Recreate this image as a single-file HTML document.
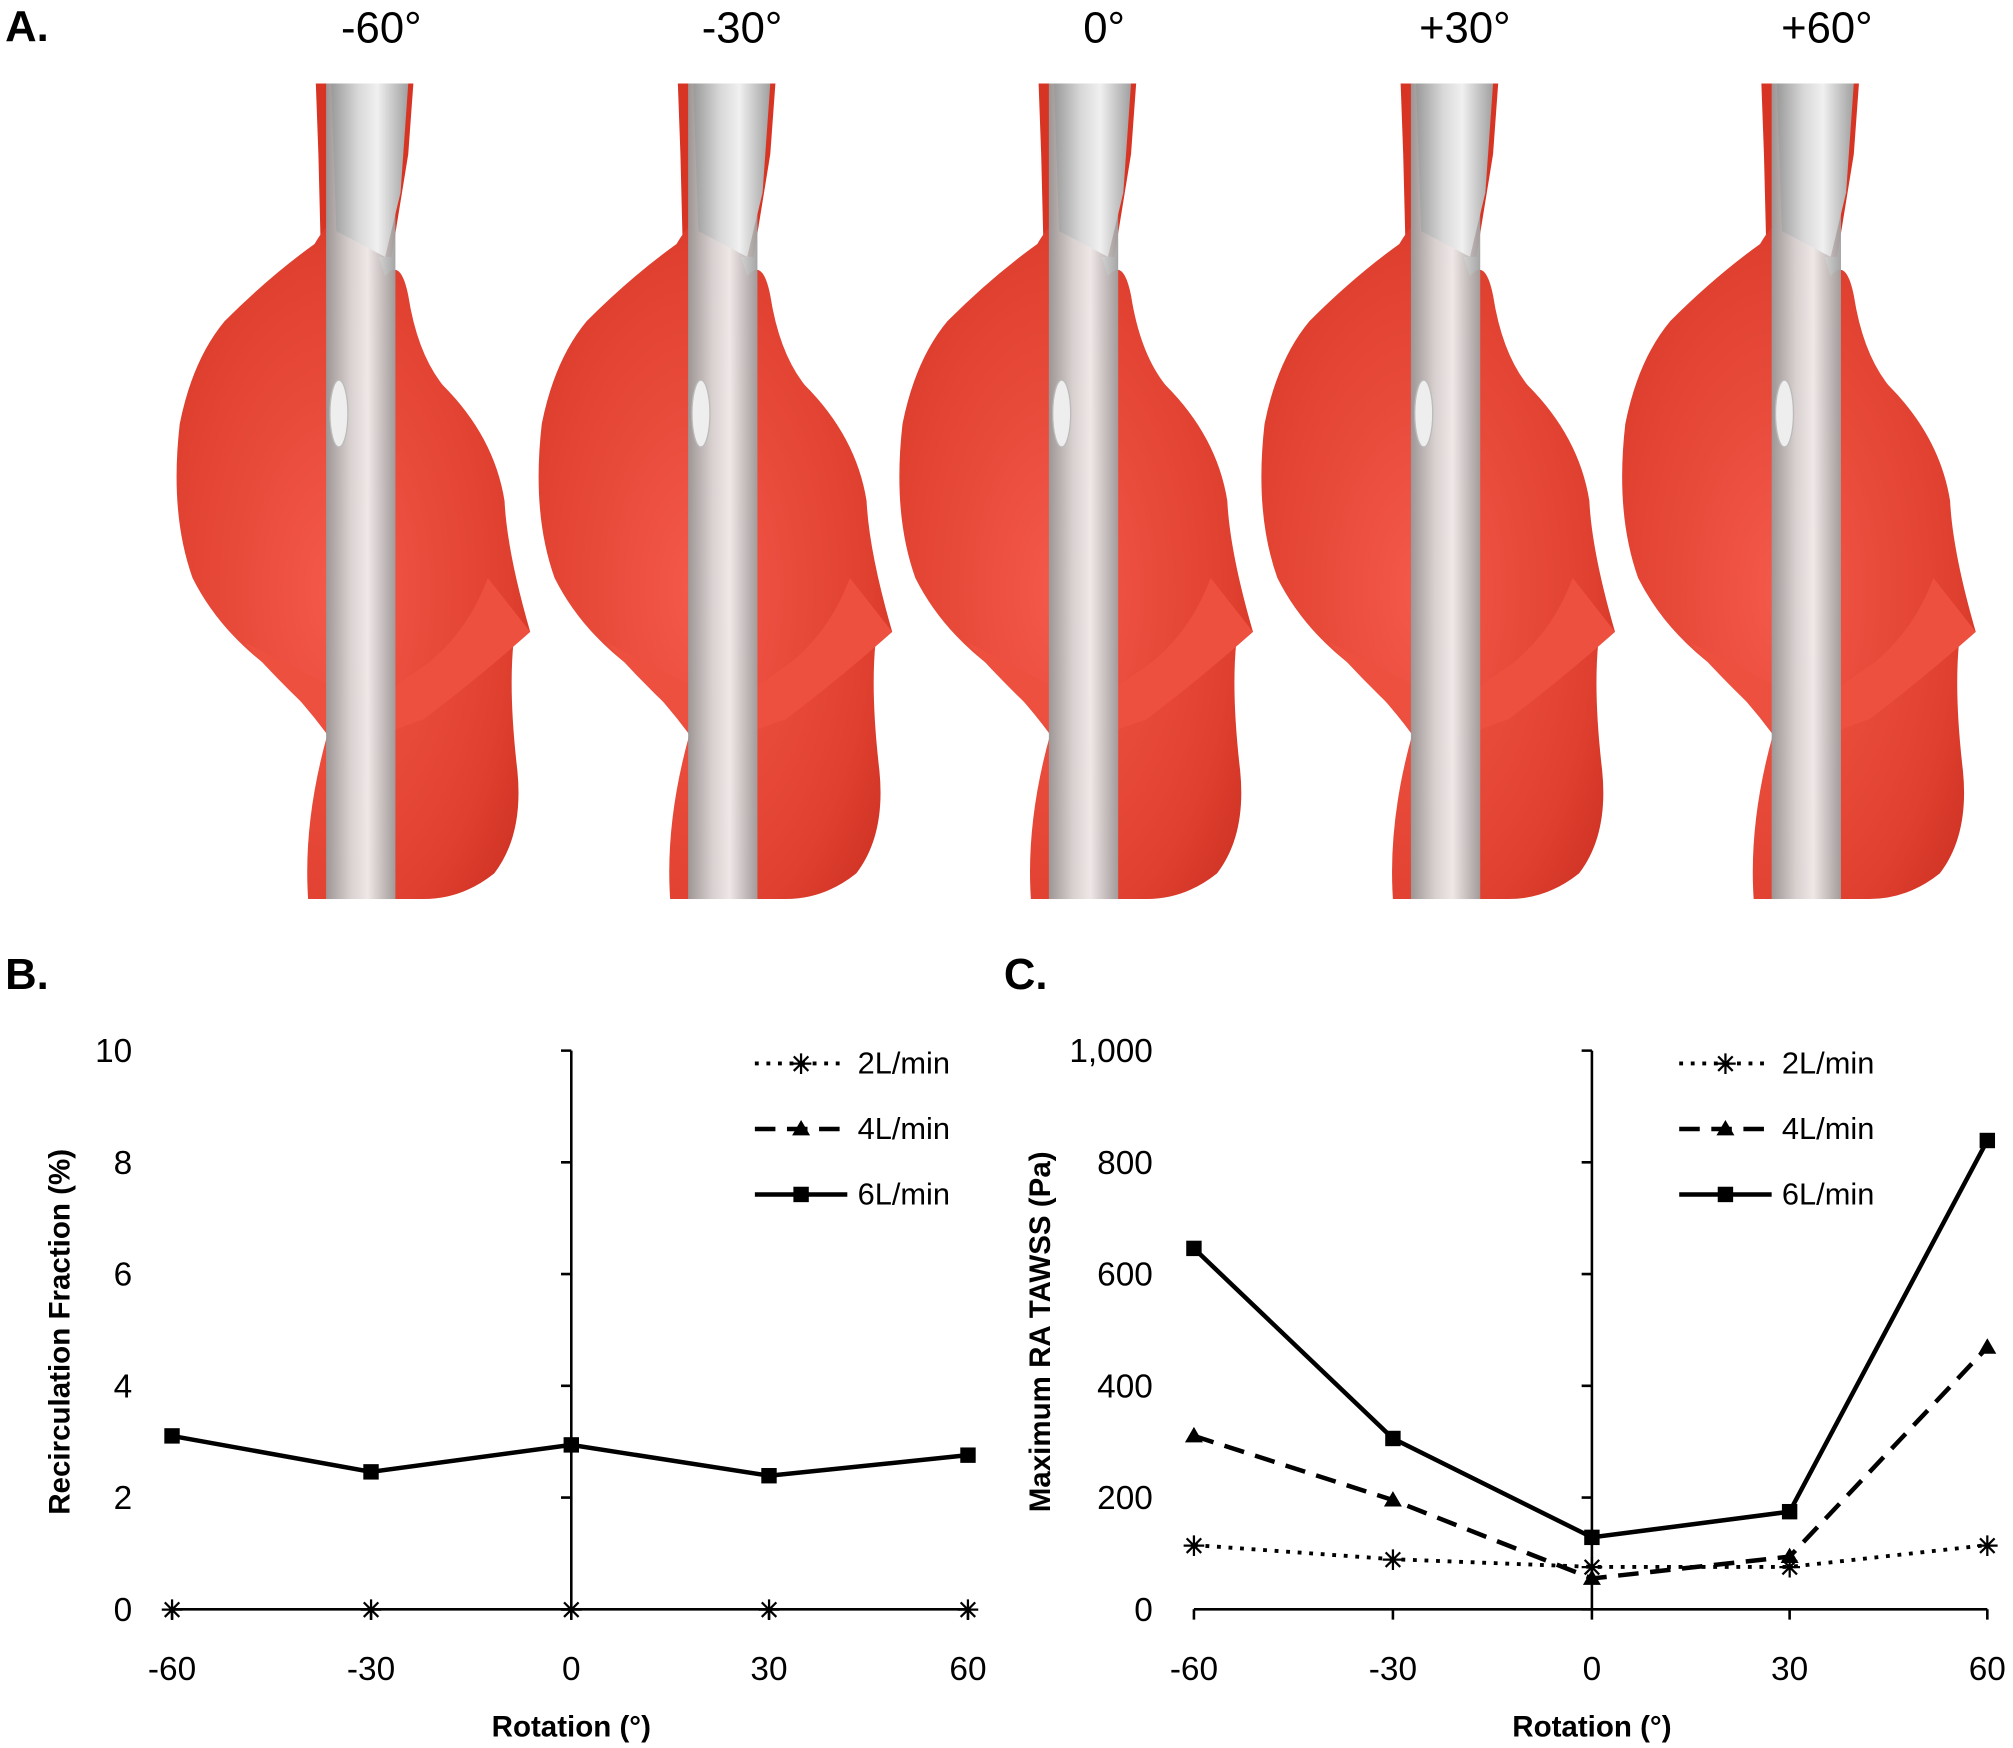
<!DOCTYPE html>
<html><head><meta charset="utf-8"><style>html,body{margin:0;padding:0;background:#fff}svg{display:block}</style></head>
<body>
<svg width="2013" height="1748" viewBox="0 0 1568 1361" preserveAspectRatio="none" xmlns="http://www.w3.org/2000/svg" font-family="Liberation Sans, sans-serif">
<defs>
<linearGradient id="tube" x1="0" x2="1" y1="0" y2="0">
<stop offset="0" stop-color="#9a9a9a"/><stop offset="0.35" stop-color="#d8d8d8"/><stop offset="0.6" stop-color="#f0f0f0"/><stop offset="1" stop-color="#a0a0a0"/></linearGradient>
<radialGradient id="red" cx="0.45" cy="0.55" r="0.7">
<stop offset="0" stop-color="#f4594a"/><stop offset="0.7" stop-color="#e0402f"/><stop offset="1" stop-color="#c92d20"/></radialGradient>
<g id="heart">
<path d="M246,65 L322,65 L318,120 L305,200 L250,200 L248,120 Z" fill="#d83424"/>
<path d="M245,190 Q262,160 285,168 L300,215 Q312,200 318,230 Q325,275 345,300 Q385,340 393,390 Q395,430 413,492 L400,500 Q396,540 403,600 Q408,650 385,680 Q360,700 330,700 L240,700 Q236,640 255,572 Q235,545 210,520 Q170,490 150,450 Q132,400 140,330 Q150,280 175,250 Q210,215 245,190 Z" fill="url(#red)"/>
<path d="M190,500 Q230,545 275,583 Q300,570 330,560 Q370,530 413,492 L380,450 Q365,490 335,515 Q300,540 285,548 Z" fill="#ee5040"/>
<rect x="254" y="65" width="54" height="635" fill="url(#tube)" opacity="0.95"/>
<path d="M258,65 L318,65 L312,150 L300,200 L262,180 Z" fill="url(#tube)"/>
<ellipse cx="264" cy="322" rx="7" ry="26" fill="#eee" stroke="#bbb"/>
</g>
</defs>
<use href="#heart"/>
<use href="#heart" x="282"/>
<use href="#heart" x="563"/>
<use href="#heart" x="845"/>
<use href="#heart" x="1126"/>
<g font-size="34" text-anchor="middle" fill="#000">
<text x="297" y="33">-60°</text><text x="578" y="33">-30°</text><text x="860" y="33">0°</text><text x="1141" y="33">+30°</text><text x="1423" y="33">+60°</text>
</g>
<g font-size="34" font-weight="bold"><text x="4" y="32">A.</text><text x="4" y="770">B.</text><text x="782" y="770">C.</text></g>

<g stroke="#000" stroke-width="2" fill="none">
<line x1="445" y1="818" x2="445" y2="1253"/>
<line x1="134" y1="1253" x2="754" y2="1253"/>
<path d="M437,818H445M437,905H445M437,992H445M437,1079H445M437,1166H445M437,1253H445"/>
<path d="M134,1253v8M289,1253v8M445,1253v8M599,1253v8M754,1253v8"/>
<polyline stroke-width="3.5" points="134,1118 289,1146 445,1125 599,1149 754,1133"/>
</g>
<g fill="#000"><rect x="128" y="1112" width="12" height="12"/><rect x="283" y="1140" width="12" height="12"/><rect x="439" y="1119" width="12" height="12"/><rect x="593" y="1143" width="12" height="12"/><rect x="748" y="1127" width="12" height="12"/></g>
<g font-size="21" text-anchor="middle" font-weight="bold"><text x="134" y="1261">✳</text><text x="289" y="1261">✳</text><text x="445" y="1261">✳</text><text x="599" y="1261">✳</text><text x="754" y="1261">✳</text></g>
<g font-size="26" text-anchor="end" fill="#000"><text x="103" y="827">10</text><text x="103" y="914">8</text><text x="103" y="1001">6</text><text x="103" y="1088">4</text><text x="103" y="1175">2</text><text x="103" y="1262">0</text></g>
<g font-size="26" text-anchor="middle"><text x="134" y="1308">-60</text><text x="289" y="1308">-30</text><text x="445" y="1308">0</text><text x="599" y="1308">30</text><text x="754" y="1308">60</text></g>
<text x="445" y="1352" font-size="23" font-weight="bold" text-anchor="middle">Rotation (°)</text>
<text transform="translate(54,1037) rotate(-90)" font-size="23" font-weight="bold" text-anchor="middle">Recirculation Fraction (%)</text>

<g stroke="#000" stroke-width="2" fill="none">
<line x1="1240" y1="818" x2="1240" y2="1253"/>
<line x1="930" y1="1253" x2="1548" y2="1253"/>
<path d="M1232,818H1240M1232,905H1240M1232,992H1240M1232,1079H1240M1232,1166H1240M1232,1253H1240"/>
<path d="M930,1253v8M1085,1253v8M1240,1253v8M1394,1253v8M1548,1253v8"/>
<polyline stroke-width="3.5" points="930,972 1085,1120 1240,1197 1394,1177 1548,888"/>
<polyline stroke-width="3.5" stroke-dasharray="16,9" points="930,1118 1085,1168 1240,1229 1394,1212 1548,1049"/>
<polyline stroke-width="3" stroke-dasharray="3,6" points="930,1203 1085,1214 1240,1220 1394,1220 1548,1203"/>
</g>
<g fill="#000"><rect x="924" y="966" width="12" height="12"/><rect x="1079" y="1114" width="12" height="12"/><rect x="1234" y="1191" width="12" height="12"/><rect x="1388" y="1171" width="12" height="12"/><rect x="1542" y="882" width="12" height="12"/>
<path d="M930,1111l7,12h-14zM1085,1161l7,12h-14zM1240,1222l7,12h-14zM1394,1205l7,12h-14zM1548,1042l7,12h-14z"/></g>
<g font-size="21" text-anchor="middle" font-weight="bold"><text x="930" y="1211">✳</text><text x="1085" y="1222">✳</text><text x="1240" y="1228">✳</text><text x="1394" y="1228">✳</text><text x="1548" y="1211">✳</text></g>
<g font-size="26" text-anchor="end"><text x="898" y="827">1,000</text><text x="898" y="914">800</text><text x="898" y="1001">600</text><text x="898" y="1088">400</text><text x="898" y="1175">200</text><text x="898" y="1262">0</text></g>
<g font-size="26" text-anchor="middle"><text x="930" y="1308">-60</text><text x="1085" y="1308">-30</text><text x="1240" y="1308">0</text><text x="1394" y="1308">30</text><text x="1548" y="1308">60</text></g>
<text x="1240" y="1352" font-size="23" font-weight="bold" text-anchor="middle">Rotation (°)</text>
<text transform="translate(818,1037) rotate(-90)" font-size="23" font-weight="bold" text-anchor="middle">Maximum RA TAWSS (Pa)</text>

<g id="leg">
<g stroke="#000" fill="none"><line x1="588" y1="828" x2="660" y2="828" stroke-width="3" stroke-dasharray="3,6"/><line x1="588" y1="879" x2="660" y2="879" stroke-width="3.5" stroke-dasharray="16,9"/><line x1="588" y1="930" x2="660" y2="930" stroke-width="3.5"/></g>
<text x="624" y="836" font-size="21" font-weight="bold" text-anchor="middle">✳</text>
<path d="M624,872l7,12h-14z" fill="#000"/><rect x="618" y="924" width="12" height="12" fill="#000"/>
<g font-size="24"><text x="668" y="836">2L/min</text><text x="668" y="887">4L/min</text><text x="668" y="938">6L/min</text></g>
</g>
<use href="#leg" x="720"/>
</svg>
</body></html>
